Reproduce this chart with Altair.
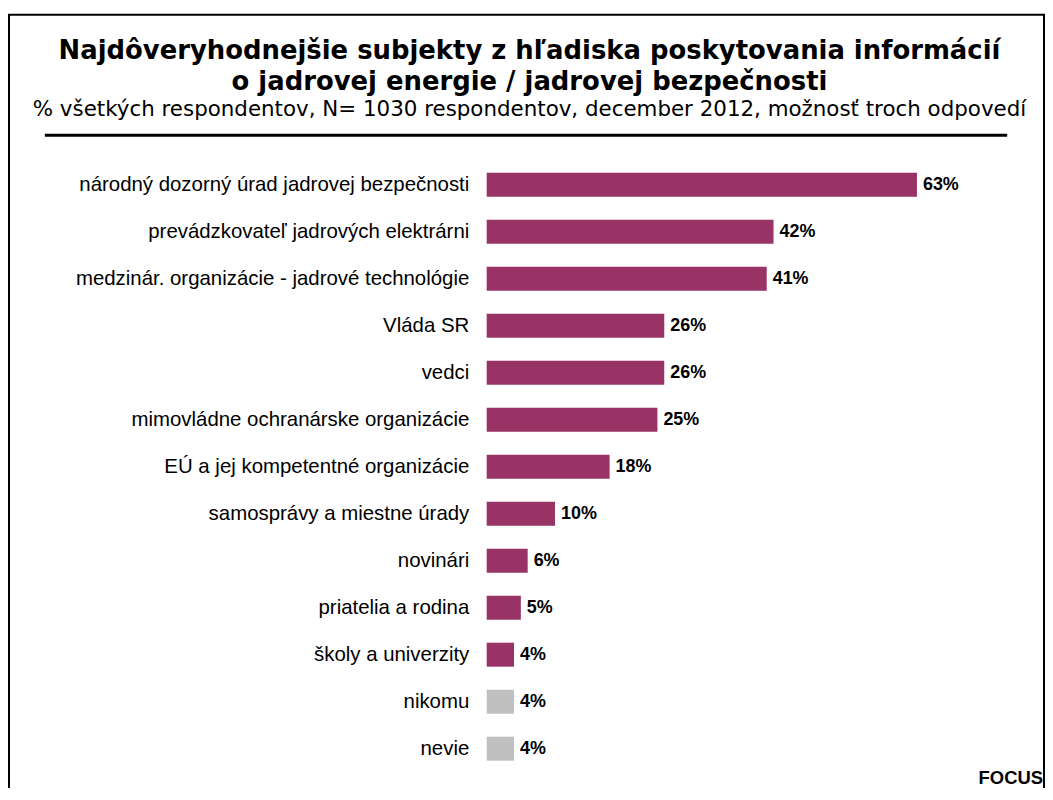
import altair as alt
import pandas as pd

title_lines = [
    "Najdôveryhodnejšie subjekty z hľadiska poskytovania informácií",
    "o jadrovej energie / jadrovej bezpečnosti",
]
subtitle = "% všetkých respondentov, N= 1030 respondentov, december 2012, možnosť troch odpovedí"
source = "FOCUS"

categories = [
    "národný dozorný úrad jadrovej bezpečnosti",
    "prevádzkovateľ jadrových elektrárni",
    "medzinár. organizácie - jadrové technológie",
    "Vláda SR",
    "vedci",
    "mimovládne ochranárske organizácie",
    "EÚ a jej kompetentné organizácie",
    "samosprávy a miestne úrady",
    "novinári",
    "priatelia a rodina",
    "školy a univerzity",
    "nikomu",
    "nevie",
]
values = [63, 42, 41, 26, 26, 25, 18, 10, 6, 5, 4, 4, 4]
groups = ["subjekt"] * 11 + ["ostatné"] * 2

df = pd.DataFrame({
    "kategoria": categories,
    "hodnota": values,
    "skupina": groups,
    "popis": [f"{v}%" for v in values],
})

W, H = 549, 614
PAD_L, PAD_T, PAD_R, PAD_B = 481, 152, 12, 14
OX, OY = 8 + PAD_L, 8 + PAD_T  # page position of the plot origin

y_enc = alt.Y(
    "kategoria:N",
    sort=categories,
    scale=alt.Scale(paddingInner=0.49, paddingOuter=0.245),
    axis=alt.Axis(
        title=None, domain=False, ticks=False, labelPadding=18,
        labelFont="Liberation Sans", labelFontSize=20.5, labelColor="#000000",
        labelLimit=470,
    ),
)
x_enc = alt.X("hodnota:Q", scale=alt.Scale(domain=[0, 80]), axis=None)

bars = alt.Chart(df).mark_bar().encode(
    y=y_enc,
    x=x_enc,
    color=alt.Color(
        "skupina:N",
        scale=alt.Scale(domain=["subjekt", "ostatné"], range=["#993366", "#C0C0C0"]),
        legend=None,
    ),
)

labels = alt.Chart(df).mark_text(
    align="left", baseline="middle", dx=6, font="Liberation Sans",
    fontSize=18, fontWeight="bold", color="#000000",
).encode(y=y_enc, x=x_enc, text="popis:N")

one = pd.DataFrame({"k": [0]})

sep = alt.Chart(one).mark_rule(color="#000000", strokeWidth=3).encode(
    x=alt.value(45 - OX), x2=alt.value(1012 - OX), y=alt.value(134 - OY),
)

frame = alt.Chart(one).mark_rect(
    fill=None, stroke="#000000", strokeWidth=2, filled=False,
).encode(
    x=alt.value(9 - OX), x2=alt.value(1049 - OX),
    y=alt.value(13 - OY), y2=alt.value(H + 200),
)

def text_layer(txt, x, y, size, weight, font, align="center"):
    return alt.Chart(one).mark_text(
        align=align, baseline="alphabetic", font=font, fontSize=size,
        fontWeight=weight, color="#000000", text=txt,
    ).encode(x=alt.value(x - OX), y=alt.value(y - OY))

t1 = text_layer(title_lines[0], 532, 57, 26, "bold", "DejaVu Sans")
t2 = text_layer(title_lines[1], 532, 89, 26, "bold", "DejaVu Sans")
t3 = text_layer(subtitle, 532, 115, 21.5, "normal", "DejaVu Sans")
focus = text_layer(source, 1048, 786, 18.5, "bold", "Liberation Sans", align="right")

chart = alt.layer(frame, sep, t1, t2, t3, bars, labels, focus).properties(
    width=W,
    height=H,
    autosize=alt.AutoSizeParams(type="none"),
    padding={"left": PAD_L, "top": PAD_T, "right": PAD_R, "bottom": PAD_B},
).configure(background="#ffffff").configure_view(stroke=None)

chart.save("out.html", embed_options={"renderer": "svg", "actions": False})
